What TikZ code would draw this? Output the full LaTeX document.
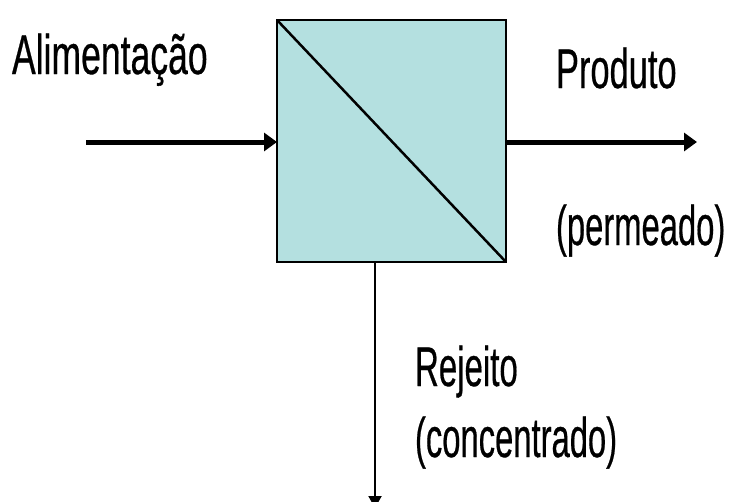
\documentclass[tikz,border=0pt]{standalone}
\usepackage{fontspec}
\setmainfont{Liberation Sans}
\newfontfamily\lblfont{Liberation Sans}[FakeBold=0.6]
\usetikzlibrary{arrows.meta}
\definecolor{membrane}{RGB}{180,224,224}
\newcommand\narrow[2][0.585]{\scalebox{#1}[1]{\lblfont\fontsize{56pt}{60pt}\selectfont #2}}
\begin{document}
\begin{tikzpicture}[x=1pt,y=-1pt,
  lbl/.style={anchor=base west,inner sep=0pt,outer sep=0pt},
  membox/.style={draw=black,line width=2pt,fill=membrane,minimum width=229pt,minimum height=242pt,inner sep=0pt,outer sep=0pt},
  flow/.style={line width=5pt,-{Triangle[length=13pt,width=18pt]}},
  thinflow/.style={line width=2pt,-{Triangle[length=12pt,width=13pt]}}]
\useasboundingbox (0,0) rectangle (739,501);
\clip (0,0) rectangle (739,501);
\node[membox] (mem) at (391.5,141) {};
\draw[line width=2.5pt,line cap=round] (mem.north west) -- (mem.south east);
\coordinate (in) at (86,142);
\coordinate (out) at (697,142);
\coordinate (down) at (375,508);
\draw[flow] (in) -- (in -| mem.west);
\draw[flow] (out -| mem.east) -- (out);
\draw[thinflow] (mem.south -| down) -- (down);
\node[lbl] (alim) at (12,74) {\narrow[0.635]{Alimentação}};
\node[lbl] (prod) at (556,88) {\narrow[0.615]{Produto}};
\node[lbl] (perm) at (556,245) {\narrow{(permeado)}};
\node[lbl] (rej) at (415,386) {\narrow[0.59]{Rejeito}};
\node[lbl] (conc) at (415,457) {\narrow{(concentrado)}};
\end{tikzpicture}
\end{document}
